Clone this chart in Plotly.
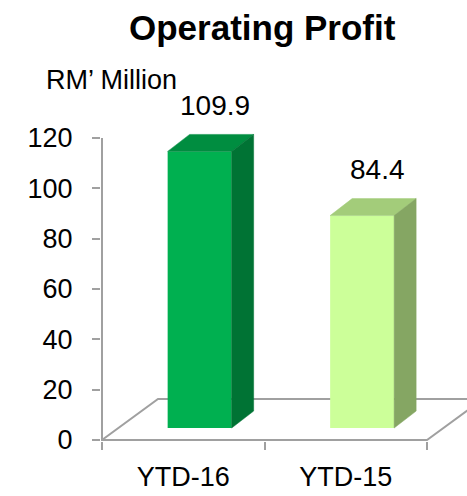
import plotly.graph_objects as go

# ---- data ----
categories = ["YTD-16", "YTD-15"]
values = [109.9, 84.4]
value_labels = ["109.9", "84.4"]
front_colors = ["#00B050", "#CCFF99"]
top_colors = ["#008D40", "#A3CC7A"]
side_colors = ["#007334", "#85A663"]
y_ticks = [0, 20, 40, 60, 80, 100, 120]

# ---- geometry (pixels) ----
W, H = 467, 496
AX_X = 102.0          # pixel x of y-axis / first category boundary
CAT_PX = 162.5        # pixels per category
Y0_PX = 440.5         # pixel y of value 0
PX_PER_UNIT = 2.521   # pixels per value unit
PLOT_L = 101
PLOT_T = 116
PLOT_B = 441.5

sx, sy = CAT_PX, PX_PER_UNIT
x_range = [-0.5 - (AX_X - PLOT_L) / sx, -0.5 + (W - AX_X) / sx]
y_range = [-(PLOT_B - Y0_PX) / sy, (Y0_PX - PLOT_T) / sy]

floor_dx, floor_dy = 56 / sx, 41 / sy
front_dx, front_dy = 16.4 / sx, 12 / sy
bar_w = 64 / sx
depth_dx, depth_dy = 22 / sx, 17 / sy

GRAY = "#A0A0A0"
FONT = "Liberation Sans, Arial, sans-serif"

def paper_x(px):
    return (px - PLOT_L) / (W - PLOT_L)

def paper_y(py):
    return (PLOT_B - py) / (PLOT_B - PLOT_T)

fig = go.Figure()

xs = [i + front_dx for i in range(len(categories))]
fig.add_trace(go.Bar(
    x=xs, y=values, base=[front_dy] * len(values), width=bar_w,
    marker=dict(color=front_colors, line=dict(width=0)),
    hoverinfo="skip", showlegend=False,
))

for i, v in enumerate(values):
    cx = xs[i]
    x0, x1 = cx - bar_w / 2, cx + bar_w / 2
    yb = front_dy
    yt = front_dy + v
    # top face
    fig.add_trace(go.Scatter(
        x=[x0, x1, x1 + depth_dx, x0 + depth_dx, x0],
        y=[yt, yt, yt + depth_dy, yt + depth_dy, yt],
        fill="toself", fillcolor=top_colors[i], mode="lines",
        line=dict(width=0.5, color=top_colors[i]), hoverinfo="skip", showlegend=False,
    ))
    # side face
    fig.add_trace(go.Scatter(
        x=[x1, x1, x1 + depth_dx, x1 + depth_dx, x1],
        y=[yb, yt, yt + depth_dy, yb + depth_dy, yb],
        fill="toself", fillcolor=side_colors[i], mode="lines",
        line=dict(width=0.5, color=side_colors[i]), hoverinfo="skip", showlegend=False,
    ))
    # value label
    fig.add_annotation(
        x=i + 32 / sx, y=yt + depth_dy, xref="x", yref="y",
        text=value_labels[i], showarrow=False, yanchor="middle", yshift=29,
        font=dict(family=FONT, size=28, color="#000000"),
    )

n = len(categories)
floor_path = (f"M {-0.5},{0} L {n - 0.5},{0} L {n - 0.5 + floor_dx},{floor_dy} "
              f"L {-0.5 + floor_dx},{floor_dy} Z")
shapes = [
    dict(type="path", path=floor_path, xref="x", yref="y", layer="below",
         line=dict(color=GRAY, width=2), fillcolor="rgba(0,0,0,0)"),
    dict(type="line", x0=-0.5, x1=-0.5, y0=0, y1=max(y_ticks), xref="x", yref="y",
         layer="below", line=dict(color=GRAY, width=2)),
]

fig.update_layout(
    width=W, height=H,
    margin=dict(l=PLOT_L, r=0, t=PLOT_T, b=H - PLOT_B, pad=0, autoexpand=False),
    plot_bgcolor="white", paper_bgcolor="white",
    shapes=shapes,
    showlegend=False,
    xaxis=dict(
        range=x_range, showgrid=False, zeroline=False, showline=False,
        tickmode="array", tickvals=list(range(n)), ticktext=categories,
        ticks="", ticklabelstandoff=17,
        tickfont=dict(family=FONT, size=27, color="#000000"),
        minor=dict(tickmode="array", tickvals=[k - 0.5 for k in range(n + 1)],
                   ticks="outside", ticklen=8, tickwidth=2, tickcolor=GRAY, showgrid=False),
        automargin=False, fixedrange=True,
    ),
    yaxis=dict(
        range=y_range, showgrid=False, zeroline=False, showline=False,
        tickmode="array", tickvals=y_ticks, ticks="outside", ticklen=8,
        tickwidth=2, tickcolor=GRAY, ticklabelstandoff=14,
        tickfont=dict(family=FONT, size=27, color="#000000"),
        automargin=False, fixedrange=True,
    ),
    annotations=list(fig.layout.annotations) + [
        dict(text="<b>Operating Profit</b>", x=paper_x(262), y=paper_y(27),
             xref="paper", yref="paper", showarrow=False, xanchor="center", yanchor="middle",
             font=dict(family=FONT, size=35, color="#000000")),
        dict(text="RM’ Million", x=paper_x(111), y=paper_y(80),
             xref="paper", yref="paper", showarrow=False, xanchor="center", yanchor="middle",
             font=dict(family=FONT, size=27, color="#000000")),
    ],
)

fig.write_html(
    "out.html",
    config={"displayModeBar": False},
    post_script="document.body.style.margin='0px';document.body.style.padding='0px';",
)
